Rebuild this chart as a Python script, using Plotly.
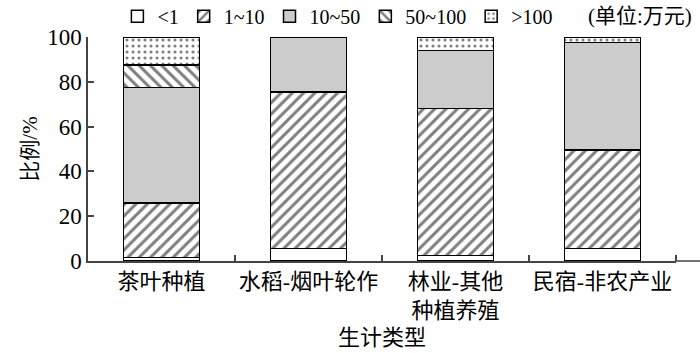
import plotly.graph_objects as go

categories = ["茶叶种植", "水稻-烟叶轮作", "林业-其他<br>种植养殖", "民宿-非农产业"]
series_names = ["<1", "1~10", "10~50", "50~100", ">100"]
v_lt1 = [1.5, 5.5, 2.5, 5.5]
v_1_10 = [24.5, 70.0, 65.5, 44.0]
v_10_50 = [51.5, 24.5, 26.0, 48.0]
v_50_100 = [10.0, 0.0, 0.0, 0.0]
v_gt100 = [12.5, 0.0, 6.0, 2.5]
y_ticks = [0, 20, 40, 60, 80, 100]

series_values = [v_lt1, v_1_10, v_10_50, v_50_100, v_gt100]
styles = [
    dict(color="white", pattern=dict(shape="")),
    dict(color="white", pattern=dict(shape="/", fgcolor="black", bgcolor="white", size=8, solidity=0.38)),
    dict(color="#cccccc", pattern=dict(shape="")),
    dict(color="white", pattern=dict(shape="\\", fgcolor="black", bgcolor="white", size=8, solidity=0.38)),
    dict(color="white", pattern=dict(shape=".", fgcolor="black", bgcolor="white", size=6, solidity=0.22)),
]

FONT = "Liberation Serif, Noto Sans CJK SC, serif"
x = list(range(len(categories)))

fig = go.Figure()
for name, vals, st in zip(series_names, series_values, styles):
    fig.add_trace(go.Bar(
        x=x, y=vals, name=name, width=0.52,
        marker=dict(color=st["color"], pattern=st["pattern"],
                    line=dict(color="black", width=1.5)),
    ))

fig.update_layout(
    barmode="stack",
    width=700, height=353,
    margin=dict(l=88, r=24, t=37, b=92, autoexpand=False),
    plot_bgcolor="white", paper_bgcolor="white",
    font=dict(family=FONT, size=22, color="black"),
    showlegend=True,
    legend=dict(orientation="h", x=0.05, xanchor="left", y=1.18, yanchor="top",
                font=dict(size=20), itemwidth=30, traceorder="normal",
                bgcolor="rgba(0,0,0,0)"),
    xaxis=dict(
        range=[-0.5, 3.5], tickvals=x, ticktext=categories,
        ticks="", showline=True, linecolor="#444", linewidth=1.5,
        tickfont=dict(size=22), showgrid=False, zeroline=False,
        minor=dict(tickvals=[0.5, 1.5, 2.5, 3.5], ticks="inside", ticklen=6,
                   tickcolor="#444", tickwidth=1.5),
        title=dict(text="生计类型", font=dict(size=22), standoff=8),
    ),
    yaxis=dict(
        range=[0, 100], tickvals=y_ticks, ticks="inside", ticklen=6,
        tickcolor="#444", tickwidth=1.5,
        showline=True, linecolor="#444", linewidth=1.5,
        showgrid=False, zeroline=False, tickfont=dict(size=23),
        title=dict(text="比例/%", font=dict(size=21), standoff=4),
    ),
)

fig.add_shape(type="line", xref="paper", yref="paper", x0=1.0, x1=1.05, y0=0, y1=0,
              line=dict(color="#444", width=1.5))
fig.add_annotation(text="(单位:万元)", xref="paper", yref="paper", x=1.03, y=1.095,
                   xanchor="right", yanchor="middle", showarrow=False,
                   font=dict(size=21, family=FONT))

fig.write_html("out.html")
